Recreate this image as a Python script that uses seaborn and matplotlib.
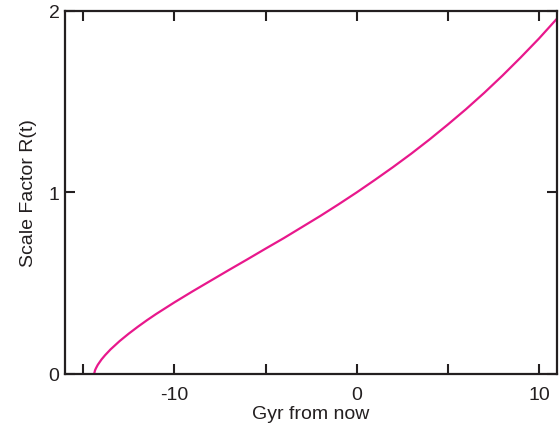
import matplotlib.pyplot as plt
import pandas as pd
import seaborn as sns

# % Data
gyr_from_now = [
    -14.4, -14.35, -14.3, -14.2, -14.0, -13.8, -13.5, -13.0, -12.5, -12.0,
    -11.5, -11.0, -10.0, -9.0, -8.0, -7.0, -6.0, -5.0, -4.0, -3.0,
    -2.0, -1.0, 0.0, 1.0, 2.0, 3.0, 4.0, 5.0, 6.0, 7.0,
    8.0, 9.0, 10.0, 11.0,
]
scale_factor = [
    0.0, 0.020, 0.031, 0.050, 0.079, 0.103, 0.135, 0.181, 0.222, 0.260,
    0.296, 0.330, 0.394, 0.455, 0.514, 0.573, 0.631, 0.690, 0.748, 0.809,
    0.870, 0.934, 1.0, 1.069, 1.140, 1.214, 1.292, 1.374, 1.459, 1.549,
    1.644, 1.744, 1.848, 1.959,
]
x_ticks = [-15, -10, -5, 0, 5, 10]
x_labels = ["", "-10", "", "0", "", "10"]
y_ticks = [0, 1, 2]

df = pd.DataFrame({"t": gyr_from_now, "R": scale_factor})

# % Style
sns.set_style("ticks")
plt.rcParams["font.family"] = ["Liberation Sans", "DejaVu Sans"]
ink = "#231F20"

fig = plt.figure(figsize=(5.6, 4.27), dpi=100)
ax = fig.add_axes([0.116, 0.122, 0.879, 0.850])

sns.lineplot(data=df, x="t", y="R", color="#E8188C", linewidth=1.6, ax=ax)

ax.set_xlim(-16, 11)
ax.set_ylim(0, 2)
ax.set_xticks(x_ticks)
ax.set_xticklabels(x_labels)
ax.set_yticks(y_ticks)
ax.set_yticklabels([str(v) for v in y_ticks])
ax.tick_params(direction="in", length=7, width=1.5, color=ink,
               labelsize=14, labelcolor=ink, top=True, right=True, pad=4)
ax.tick_params(axis="x", pad=9)
for side in ax.spines.values():
    side.set_linewidth(1.6)
    side.set_color(ink)

ax.set_xlabel("Gyr from now", fontsize=14, color=ink, labelpad=1)
ax.set_ylabel("Scale Factor R(t)", fontsize=14, color=ink, labelpad=8)

plt.savefig("out.png", dpi=100)
